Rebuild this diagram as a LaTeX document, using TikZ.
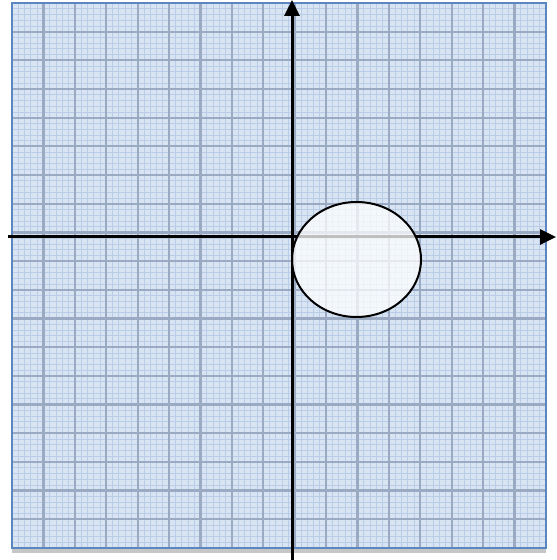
\documentclass[tikz,border=0pt]{standalone}
\usepackage{xcolor}
\usepackage{tikz}
\usetikzlibrary{arrows.meta}

\definecolor{paperblue}{HTML}{D9E4F3}
\definecolor{minorblue}{HTML}{B9CCE8}
\definecolor{majorblue}{HTML}{9AAAC2}
\definecolor{frameblue}{HTML}{5B86C2}

\begin{document}
\begin{tikzpicture}[
  x=0.5pt, y=-0.5pt,
  gridminor/.style={minorblue, line width=0.4pt},
  gridmajor/.style={majorblue, line width=1.1pt},
  frame/.style={frameblue, line width=1.4pt},
  axisline/.style={black, line width=1.5pt, -{Triangle[length=8pt, width=7.5pt]}},
  disc/.style={draw=black, line width=1pt, fill=white, fill opacity=0.75}]
\useasboundingbox (0,0) rectangle (556,560);
% paper with shadow
\fill[gray!45] (12,548) rectangle (546,553);
\fill[paperblue] (12,3) rectangle (546,548);
% fine grid
\foreach \i in {1,...,84}
  \draw[gridminor] ({12+6.282*\i},3) -- ({12+6.282*\i},548);
\foreach \j in {1,...,94}
  \draw[gridminor] (12,{3+5.737*\j}) -- (546,{3+5.737*\j});
% coarse grid
\foreach \i in {1,...,16}
  \draw[gridmajor] ({12+31.41*\i},3) -- ({12+31.41*\i},548);
\foreach \j in {1,...,18}
  \draw[gridmajor] (12,{3+28.68*\j}) -- (546,{3+28.68*\j});
\draw[frame] (12,3) rectangle (546,548);
% axes
\coordinate (xstart) at (8,237);
\coordinate (xend) at (556,237);
\coordinate (ystart) at (292,560);
\coordinate (yend) at (292,0);
\draw[axisline] (xstart) -- (xend);
\draw[axisline] (ystart) -- (yend);
% region
\draw[disc] (356.5,259.5) ellipse [x radius=64.5, y radius=57.5];
\end{tikzpicture}
\end{document}
